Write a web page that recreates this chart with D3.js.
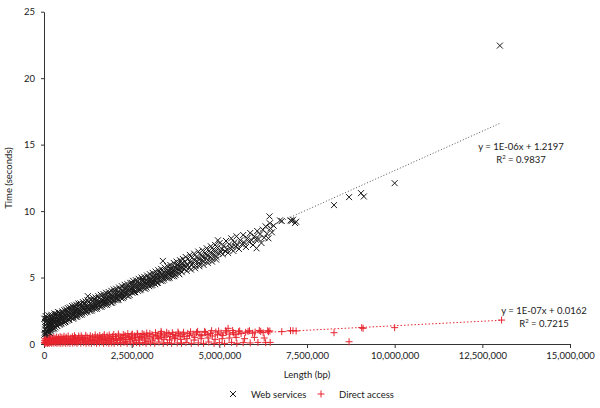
<!DOCTYPE html>
<html>
<head>
<meta charset="utf-8">
<script src="https://cdn.jsdelivr.net/npm/d3@7"></script>
<style>
  body { margin: 0; background: #fff; }
  text { font-family: "Lato", "DejaVu Sans", sans-serif; fill: #1a1a1a; font-size: 9.5px; }
</style>
</head>
<body>
<script>
// lengths in millions of bp, times in seconds
var webServices = [
  [0.02,0.85],[0.03,1.1],[0.04,1.4],[0.05,1.9],[0.06,1.2],[0.07,0.95],[0.08,1.55],[0.09,1.3],[0.10,1.75],[0.11,1.05],
  [0.12,1.45],[0.13,1.2],[0.14,1.65],[0.15,1.35],[0.16,1.9],[0.17,1.1],[0.18,1.5],[0.19,1.75],[0.20,1.3],[0.22,1.6],
  [0.23,1.4],[0.24,1.85],[0.25,1.55],[0.27,1.7],[0.28,1.35],[0.30,1.95],[0.31,1.6],[0.33,1.8],[0.34,1.5],[0.36,2.05],
  [0.37,1.7],[0.39,1.85],[0.40,1.6],[0.42,2.1],[0.43,1.8],[0.45,1.95],[0.46,1.7],[0.48,2.2],[0.49,1.9],
  [0.51,2.05],[0.53,1.8],[0.55,2.25],[0.57,2.0],[0.58,2.15],[0.60,1.9],[0.62,2.35],[0.64,2.1],[0.65,2.25],[0.67,2.0],
  [0.69,2.4],[0.71,2.15],[0.73,2.3],[0.75,2.05],[0.77,2.5],[0.79,2.25],[0.81,2.4],[0.83,2.2],[0.85,2.6],[0.87,2.35],
  [0.89,2.5],[0.91,2.3],[0.93,2.7],[0.95,2.45],[0.97,2.6],[0.99,2.4],
  [1.01,2.75],[1.03,2.5],[1.05,2.65],[1.08,2.45],[1.10,2.85],[1.12,2.6],[1.15,2.75],[1.17,2.55],[1.20,2.95],[1.22,2.7],
  [1.25,3.6],[1.26,2.85],[1.28,2.65],[1.31,3.05],[1.33,2.8],[1.36,2.95],[1.38,2.75],[1.41,3.15],[1.43,2.9],[1.46,3.05],[1.48,2.85],
  [1.51,3.25],[1.53,3.0],[1.56,3.15],[1.58,2.95],[1.61,3.35],[1.63,3.1],[1.66,3.25],[1.68,3.05],[1.71,3.45],[1.73,3.2],
  [1.76,3.35],[1.78,3.15],[1.81,3.55],[1.83,3.3],[1.86,3.5],[1.88,3.25],[1.91,3.7],[1.93,3.4],[1.96,3.6],[1.98,3.35],
  [2.01,3.8],[2.03,3.5],[2.06,3.7],[2.08,3.45],[2.11,3.9],[2.13,3.65],[2.16,3.8],[2.18,3.6],[2.21,4.05],[2.23,3.75],
  [2.26,3.95],[2.28,3.7],[2.31,4.15],[2.33,3.9],[2.36,4.05],[2.38,3.85],[2.41,4.3],[2.43,4.0],[2.46,4.2],[2.48,3.95],
  [2.51,4.6],[2.53,4.15],[2.56,4.35],[2.58,4.1],[2.61,4.5],[2.63,4.25],[2.66,4.45],[2.68,4.2],[2.71,4.6],[2.73,4.35],
  [2.76,4.55],[2.78,4.3],[2.81,4.7],[2.83,4.45],[2.86,4.65],[2.88,4.4],[2.91,4.8],[2.93,4.55],[2.96,4.7],[2.98,4.5],
  [3.01,4.95],[3.03,4.65],[3.06,4.85],[3.08,4.6],[3.11,5.05],[3.13,4.8],[3.16,4.95],[3.18,4.75],[3.21,5.2],[3.23,4.9],
  [3.26,5.1],[3.28,4.85],[3.31,5.3],[3.33,5.05],[3.36,5.2],[3.39,6.25],[3.40,5.0],[3.42,5.4],[3.45,5.15],[3.47,5.3],[3.49,5.1],
  [3.52,5.55],[3.54,5.25],[3.57,5.45],[3.59,5.2],[3.62,5.65],[3.64,5.4],[3.67,5.55],[3.69,5.35],[3.72,5.8],[3.74,5.5],
  [3.77,5.7],[3.79,5.45],[3.82,5.95],[3.84,5.6],[3.87,5.8],[3.89,5.55],[3.92,6.05],[3.94,5.75],[3.97,5.9],[3.99,5.65],
  [4.02,6.2],[4.05,5.8],[4.08,6.0],[4.11,6.4],[4.14,5.75],[4.17,6.15],[4.20,5.95],[4.23,6.5],[4.26,6.05],[4.29,6.3],
  [4.32,5.9],[4.35,6.55],[4.38,6.2],[4.41,6.4],[4.44,6.0],[4.47,6.7],[4.50,6.3],
  [4.53,6.55],[4.56,6.2],[4.59,6.85],[4.62,6.45],[4.65,6.65],[4.68,6.3],[4.71,7.0],[4.74,6.55],[4.77,6.8],[4.80,6.4],
  [4.83,7.1],[4.86,6.7],[4.89,6.95],[4.92,6.55],[4.95,7.25],[4.96,7.8],[4.98,6.85],
  [5.01,7.6],[5.04,6.9],[5.07,7.15],[5.10,6.75],[5.13,7.4],[5.16,7.0],[5.19,7.75],[5.22,7.1],[5.25,6.85],[5.28,7.5],
  [5.31,7.2],[5.34,7.95],[5.37,7.3],[5.40,7.0],[5.43,7.65],[5.46,7.35],[5.49,8.1],
  [5.52,7.45],[5.56,7.15],[5.60,7.8],[5.64,7.5],[5.68,8.2],[5.72,7.6],[5.76,7.3],[5.80,7.95],[5.84,7.7],[5.88,8.35],
  [5.92,7.8],[5.96,7.45],
  [6.00,8.1],[6.04,7.85],[6.06,7.2],[6.08,8.5],[6.12,7.9],[6.16,8.25],[6.20,7.6],[6.24,8.6],[6.28,8.0],[6.32,8.85],
  [6.36,8.3],[6.40,7.95],[6.43,9.6],[6.44,9.08],[6.46,8.7],[6.50,8.4],[6.55,8.9],
  [6.73,9.3],[6.78,9.25],[7.03,9.3],[7.06,9.25],[7.10,9.35],[7.16,9.1],[7.19,9.2],
  [8.27,10.45],[8.70,11.05],[9.04,11.35],[9.12,11.1],[10.0,12.1],[13.0,22.45],
  // upper and lower edges of the dense band
  [0.01,1.9],[0.05,2.1],[0.09,2.0],[0.13,2.15],[0.17,2.05],[0.21,2.2],[0.26,2.1],[0.30,2.3],[0.35,2.25],[0.40,2.4],[0.45,2.35],
  [0.01,0.7],[0.04,0.75],[0.08,0.8],[0.12,0.9],[0.16,0.85],[0.20,1.0],[0.25,1.1],[0.29,1.15],[0.33,1.25],[0.38,1.35],[0.44,1.45],[0.50,1.55],
  [0.52,2.45],[0.58,2.55],[0.63,2.6],[0.68,2.7],[0.74,2.75],[0.80,2.85],[0.86,2.9],[0.92,2.95],[0.98,3.05],
  [0.56,1.6],[0.61,1.7],[0.66,1.75],[0.72,1.85],[0.78,1.95],[0.84,2.0],[0.90,2.05],[0.96,2.15],
  [1.04,3.05],[1.11,3.15],[1.18,3.2],[1.24,3.3],[1.32,3.35],[1.40,3.45],[1.47,3.5],[1.55,3.6],[1.62,3.7],[1.70,3.75],
  [1.77,3.85],[1.85,3.9],[1.92,4.0],[1.99,4.1],
  [1.02,2.2],[1.09,2.3],[1.16,2.35],[1.23,2.45],[1.30,2.5],[1.37,2.6],[1.45,2.65],[1.52,2.75],[1.60,2.8],[1.67,2.9],
  [1.74,2.95],[1.82,3.05],[1.90,3.1],[1.97,3.2],
  [2.06,4.15],[2.14,4.25],[2.22,4.35],[2.30,4.45],[2.38,4.5],[2.46,4.6],[2.54,4.75],[2.62,4.8],[2.70,4.9],[2.78,5.0],[2.86,5.05],[2.94,5.15],
  [2.04,3.3],[2.12,3.35],[2.20,3.45],[2.28,3.55],[2.36,3.65],[2.44,3.7],[2.52,3.85],[2.60,3.9],[2.68,4.0],[2.76,4.1],[2.84,4.2],[2.92,4.25],
  [3.02,5.25],[3.10,5.35],[3.18,5.45],[3.26,5.55],[3.34,5.65],[3.44,5.75],[3.52,5.85],[3.60,5.95],[3.70,6.1],[3.78,6.2],[3.88,6.3],[3.96,6.4],
  [3.00,4.35],[3.09,4.45],[3.17,4.5],[3.25,4.6],[3.33,4.75],[3.42,4.85],[3.50,4.95],[3.58,5.0],[3.66,5.1],[3.75,5.2],[3.84,5.3],[3.93,5.4],
  [4.04,6.55],[4.16,6.7],[4.28,6.8],[4.40,6.95],[4.52,7.05],[4.64,7.2],[4.76,7.35],[4.88,7.45],
  [4.07,5.5],[4.19,5.6],[4.31,5.7],[4.43,5.85],[4.55,5.95],[4.67,6.1],[4.79,6.2],[4.91,6.35],
  // points between the rows
  [0.03,1.65],[0.07,1.7],[0.11,1.8],[0.15,1.0],[0.19,1.15],[0.23,1.95],[0.27,1.2],[0.32,2.15],[0.36,1.4],[0.41,2.2],[0.47,1.5],
  [0.54,2.35],[0.60,1.65],[0.66,2.5],[0.71,1.8],[0.77,2.65],[0.83,1.9],[0.88,2.75],[0.94,2.05],
  [1.00,2.9],[1.07,2.2],[1.14,3.0],[1.21,2.4],[1.28,3.15],[1.35,2.5],[1.42,3.3],[1.50,2.65],[1.57,3.45],[1.64,2.8],
  [1.72,3.6],[1.79,2.95],[1.87,3.7],[1.94,3.1],
  [2.02,3.95],[2.10,3.3],[2.17,4.1],[2.25,3.45],[2.33,4.25],[2.41,3.6],[2.49,4.4],[2.57,3.9],[2.65,4.65],[2.73,4.05],
  [2.81,4.85],[2.89,4.15],[2.97,4.95],
  [3.05,4.4],[3.14,5.15],[3.22,4.6],[3.30,5.4],[3.38,4.75],[3.46,5.55],[3.55,4.95],[3.63,5.75],[3.71,5.1],[3.80,5.95],
  [3.86,5.25],[3.95,6.1]
];

var directAccess = [
  [0.01,0.1],[0.02,0.25],[0.03,0.05],[0.04,0.15],[0.05,0.3],[0.06,0.08],[0.07,0.2],[0.08,0.12],[0.09,0.35],[0.10,0.05],
  [0.11,0.18],[0.12,0.28],[0.13,0.1],[0.14,0.22],[0.15,0.05],[0.17,0.62],[0.18,0.3],[0.19,0.12],[0.21,0.25],[0.22,0.05],
  [0.24,0.35],[0.25,0.15],[0.27,0.28],[0.28,0.06],[0.30,0.2],[0.32,0.38],[0.33,0.1],[0.35,0.25],[0.37,0.05],[0.38,0.32],
  [0.40,0.15],[0.42,0.4],[0.43,0.08],[0.45,0.28],[0.47,0.18],[0.48,0.05],[0.50,0.35],[0.52,0.22],[0.54,0.06],[0.56,0.4],
  [0.58,0.15],[0.60,0.3],[0.62,0.05],[0.64,0.42],[0.66,0.2],[0.68,0.08],[0.70,0.35],[0.72,0.25],[0.74,0.05],[0.76,0.45],
  [0.78,0.18],[0.80,0.32],[0.82,0.06],[0.84,0.4],[0.86,0.22],[0.88,0.1],[0.90,0.48],[0.92,0.3],[0.94,0.05],[0.96,0.38],[0.98,0.15],
  [1.00,0.45],[1.03,0.25],[1.05,0.06],[1.08,0.5],[1.10,0.35],[1.13,0.1],[1.15,0.42],[1.18,0.2],[1.20,0.05],[1.23,0.52],
  [1.25,0.3],[1.28,0.08],[1.30,0.45],[1.33,0.35],[1.35,0.05],[1.38,0.55],[1.40,0.25],[1.43,0.12],[1.45,0.48],[1.48,0.38],
  [1.50,0.05],[1.53,0.55],[1.55,0.3],[1.58,0.08],[1.60,0.5],[1.63,0.4],[1.65,0.15],[1.68,0.58],[1.70,0.05],[1.73,0.45],
  [1.75,0.3],[1.78,0.1],[1.80,0.6],[1.83,0.42],[1.85,0.05],[1.88,0.52],[1.90,0.2],[1.93,0.08],[1.95,0.58],[1.98,0.38],
  [2.00,0.05],[2.04,0.55],[2.07,0.4],[2.10,0.1],[2.13,0.62],[2.16,0.3],[2.19,0.05],[2.22,0.5],[2.25,0.45],[2.28,0.12],
  [2.31,0.65],[2.34,0.35],[2.37,0.05],[2.40,0.55],[2.43,0.48],[2.46,0.15],[2.49,0.68],[2.52,0.4],[2.55,0.05],[2.58,0.6],
  [2.61,0.5],[2.64,0.1],[2.67,0.7],[2.70,0.3],[2.73,0.05],[2.76,0.58],[2.79,0.52],[2.82,0.12],[2.85,0.72],[2.88,0.45],
  [2.91,0.05],[2.94,0.62],[2.97,0.2],
  [3.00,0.55],[3.04,0.08],[3.08,0.7],[3.12,0.45],[3.16,0.05],[3.20,0.65],[3.24,0.58],[3.28,0.15],[3.32,0.75],[3.34,0.95],
  [3.36,0.5],[3.40,0.05],[3.44,0.68],[3.48,0.6],[3.52,0.1],[3.56,0.78],[3.60,0.55],[3.64,0.05],[3.68,0.72],[3.72,0.4],
  [3.76,0.65],[3.80,0.08],[3.84,0.8],[3.88,0.6],[3.92,0.05],[3.96,0.7],
  [4.00,0.55],[4.05,0.12],[4.10,0.8],[4.15,0.65],[4.20,0.05],[4.25,0.75],[4.30,0.5],[4.35,0.85],[4.40,0.08],[4.45,0.7],
  [4.50,0.62],[4.55,0.05],[4.60,0.88],[4.65,0.72],[4.70,0.15],[4.75,0.8],[4.80,0.6],[4.85,0.05],[4.90,0.9],[4.95,0.7],
  [5.00,0.1],[5.05,0.82],[5.10,0.65],[5.15,0.05],[5.20,0.9],[5.25,1.18],[5.30,0.75],[5.35,0.12],[5.40,0.85],[5.45,0.7],
  [5.50,0.05],[5.55,0.92],[5.62,0.78],[5.68,0.1],[5.75,0.88],[5.82,0.95],[5.88,0.08],[5.95,0.82],[6.02,0.9],[6.10,0.12],
  [6.18,0.95],[6.25,0.85],[6.32,0.1],[6.40,0.92],[6.44,0.98],[6.45,0.12],
  [6.78,0.93],[7.03,1.0],[7.10,1.0],[7.19,0.98],[8.27,0.85],[8.70,0.17],[9.06,1.23],[9.10,1.18],[10.0,1.23],[13.05,1.8],
  // mid and upper part of the red band
  [0.03,0.4],[0.07,0.45],[0.11,0.42],[0.16,0.48],[0.20,0.4],[0.26,0.5],[0.31,0.45],[0.36,0.52],[0.41,0.48],[0.46,0.55],
  [0.51,0.5],[0.57,0.58],[0.63,0.52],[0.69,0.6],[0.75,0.25],[0.81,0.55],[0.87,0.62],[0.93,0.2],[0.99,0.6],
  [1.06,0.62],[1.12,0.3],[1.19,0.65],[1.26,0.18],[1.32,0.62],[1.39,0.3],[1.46,0.68],[1.52,0.2],[1.59,0.65],[1.66,0.35],
  [1.72,0.7],[1.79,0.25],[1.86,0.68],[1.92,0.35],[1.99,0.72],
  [2.05,0.25],[2.12,0.75],[2.18,0.4],[2.26,0.72],[2.32,0.2],[2.39,0.78],[2.45,0.35],[2.52,0.75],[2.59,0.25],[2.66,0.8],
  [2.72,0.45],[2.80,0.78],[2.87,0.3],[2.93,0.82],
  [3.02,0.8],[3.10,0.3],[3.18,0.85],[3.26,0.4],[3.35,0.82],[3.42,0.35],[3.50,0.88],[3.58,0.3],[3.66,0.85],[3.74,0.45],
  [3.82,0.9],[3.90,0.35],[3.98,0.88],
  [4.08,0.4],[4.18,0.92],[4.28,0.3],[4.38,0.95],[4.48,0.4],[4.58,0.95],[4.68,0.45],[4.78,1.0],[4.88,0.35],[4.98,0.98],
  [5.08,0.4],[5.18,1.0],[5.28,0.45],[5.38,1.02],[5.48,0.5],[5.58,0.98],[5.72,0.4],[5.86,1.0],[6.00,0.5],[6.14,1.02],
  [6.28,0.45],[6.38,1.0]
];

// trend line end points
var trendWeb = [[0, 1.22], [13.0, 16.6]];
var trendDirect = [[0, 0.02], [13.0, 1.78]];

var xTicks = [0, 2.5, 5, 7.5, 10, 12.5, 15];
var yTicks = [0, 5, 10, 15, 20, 25];

var fitWeb = ["y = 1E-06x + 1.2197", "0.9837"];
var fitDirect = ["y = 1E-07x + 0.0162", "0.7215"];

var legendNames = ["Web services", "Direct access"];

var black = "#1a1a1a";
var red = "#e8252f";

var crossPath = "M-3,-3L3,3M-3,3L3,-3";
var plusPath = "M-3.5,0H3.5M0,-3.5V3.5";

var svg = d3.select("body")
  .append("svg")
    .attr("width", 600)
    .attr("height", 408);

var x = d3.scaleLinear().domain([0, 15]).range([44, 570]);
var y = d3.scaleLinear().domain([0, 25]).range([344, 11.7]);

var fmt = d3.format(",");

// axes
svg.append("g")
    .attr("transform", "translate(0,344)")
    .call(d3.axisBottom(x).tickValues(xTicks).tickSizeInner(4).tickSizeOuter(0).tickPadding(4)
      .tickFormat(function(d) { return fmt(Math.round(d * 1e6)); }));

svg.append("g")
    .attr("transform", "translate(44,0)")
    .call(d3.axisLeft(y).tickValues(yTicks).tickSizeInner(3).tickSizeOuter(0).tickPadding(6));

svg.selectAll(".domain, .tick line")
    .style("stroke", "#333")
    .style("stroke-width", 1);
svg.selectAll(".tick text")
    .style("font-family", "Lato, 'DejaVu Sans', sans-serif")
    .style("font-size", "9.5px")
    .style("fill", "#1a1a1a");

// trend lines
var line = d3.line()
    .x(function(d) { return x(d[0]); })
    .y(function(d) { return y(d[1]); });

svg.append("path")
    .datum(trendWeb)
    .attr("d", line)
    .style("fill", "none")
    .style("stroke", "#555")
    .style("stroke-width", 1)
    .style("stroke-dasharray", "1,2");

svg.append("path")
    .datum(trendDirect)
    .attr("d", line)
    .style("fill", "none")
    .style("stroke", red)
    .style("stroke-width", 1)
    .style("stroke-dasharray", "1.5,2");

// points
svg.append("g")
  .selectAll("path")
    .data(directAccess)
  .enter().append("path")
    .attr("transform", function(d) { return "translate(" + x(d[0]) + "," + y(d[1]) + ")"; })
    .attr("d", plusPath)
    .style("fill", "none")
    .style("stroke", red)
    .style("stroke-width", 1);

svg.append("g")
  .selectAll("path")
    .data(webServices)
  .enter().append("path")
    .attr("transform", function(d) { return "translate(" + x(d[0]) + "," + y(d[1]) + ")"; })
    .attr("d", crossPath)
    .style("fill", "none")
    .style("stroke", black)
    .style("stroke-width", 1);

// fit labels
function fitLabel(lines, cx, top) {
  svg.append("text")
      .attr("x", cx)
      .attr("y", top)
      .attr("text-anchor", "middle")
      .text(lines[0]);
  var r = svg.append("text")
      .attr("x", cx)
      .attr("y", top + 13)
      .attr("text-anchor", "middle");
  r.append("tspan").text("R");
  r.append("tspan").attr("dy", -3.5).style("font-size", "6px").text("2");
  r.append("tspan").attr("dy", 3.5).text(" = " + lines[1]);
}
fitLabel(fitWeb, 521, 149.5);
fitLabel(fitDirect, 544, 313.5);

// axis titles
svg.append("text")
    .attr("transform", "translate(12,178) rotate(-90)")
    .attr("text-anchor", "middle")
    .text("Time (seconds)");

svg.append("text")
    .attr("x", 307)
    .attr("y", 378)
    .attr("text-anchor", "middle")
    .text("Length (bp)");

// legend
var legend = svg.append("g").attr("transform", "translate(0,394)");
legend.append("path")
    .attr("transform", "translate(233,0)")
    .attr("d", crossPath)
    .style("fill", "none")
    .style("stroke", black);
legend.append("text")
    .attr("x", 251)
    .attr("y", 3.5)
    .text(legendNames[0]);
legend.append("path")
    .attr("transform", "translate(321,0)")
    .attr("d", plusPath)
    .style("fill", "none")
    .style("stroke", red);
legend.append("text")
    .attr("x", 339)
    .attr("y", 3.5)
    .text(legendNames[1]);
</script>
</body>
</html>
